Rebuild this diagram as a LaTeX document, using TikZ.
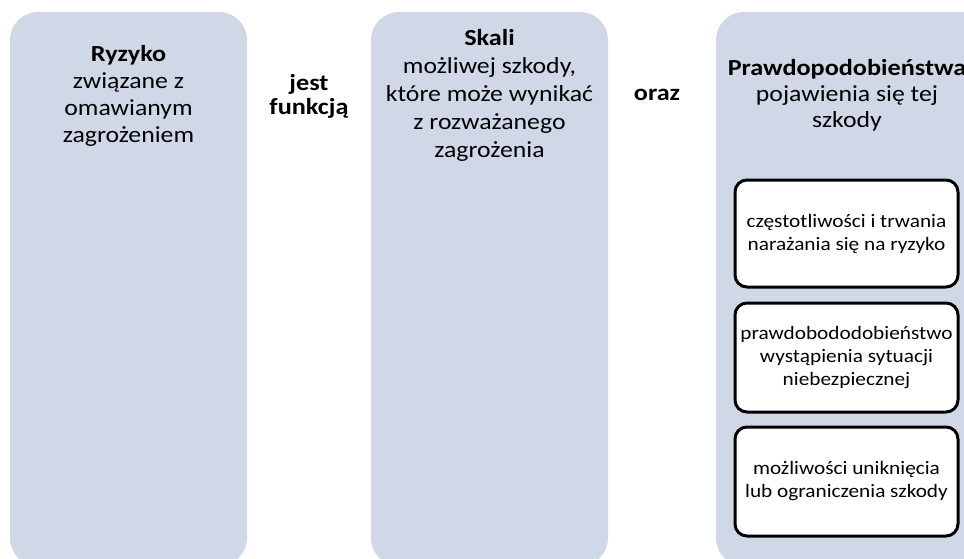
\documentclass[tikz,border=0pt]{standalone}
\usepackage{fontspec}
\setmainfont{Carlito}[FakeStretch=1.12, BoldFeatures={FakeStretch=1.14}]
\definecolor{panelfill}{HTML}{D0D8E8}
\tikzset{
  x=1pt, y=-1pt,
  panel/.style={fill=panelfill, draw=none, rounded corners=28pt},
  inner/.style={fill=white, draw=black, line width=3pt, rounded corners=12pt},
  bigtext/.style={align=center, inner sep=0pt, font=\fontsize{23}{27}\selectfont},
  smalltext/.style={align=center, inner sep=0pt, font=\fontsize{19}{23}\selectfont},
}
\begin{document}
\begin{tikzpicture}
\useasboundingbox (0,0) rectangle (964,558);
\clip (0,0) rectangle (964,558);
\fill[white] (0,0) rectangle (964,558);
\path[panel] (10,12) rectangle (247,566);
\path[panel] (371,12) rectangle (608,566);
\path[panel] (716,12) rectangle (1006,566);
\node[bigtext] (ryzyko) at (128.5,95.5) {\textbf{Ryzyko}\\związane z\\omawianym\\zagrożeniem};
\node[bigtext, font=\fontsize{23}{24}\selectfont] (jest) at (309,96) {\textbf{jest}\\\textbf{funkcją}};
\node[bigtext, font=\fontsize{23}{28}\selectfont] (skali) at (489.5,95.5) {\textbf{Skali}\\możliwej szkody,\\które może wynikać\\z rozważanego\\zagrożenia};
\node[bigtext] (oraz) at (657,95) {\textbf{oraz}};
\node[bigtext, font=\fontsize{23}{26}\selectfont] (prawd) at (847,95) {\textbf{Prawdopodobieństwa}\\pojawienia się tej\\szkody};
\node[inner, minimum width=223pt, minimum height=107pt] (b1) at (846.5,233.5) {};
\node[smalltext] (t1) at (b1.center) {częstotliwości i trwania\\narażania się na ryzyko};
\node[inner, minimum width=223pt, minimum height=109pt] (b2) at (846.5,357.5) {};
\node[smalltext] (t2) at (b2.center) {prawdobododobieństwo\\wystąpienia sytuacji\\niebezpiecznej};
\node[inner, minimum width=223pt, minimum height=109pt] (b3) at (846.5,481.5) {};
\node[smalltext] (t3) at (b3.center) {możliwości uniknięcia\\lub ograniczenia szkody};
\end{tikzpicture}
\end{document}
